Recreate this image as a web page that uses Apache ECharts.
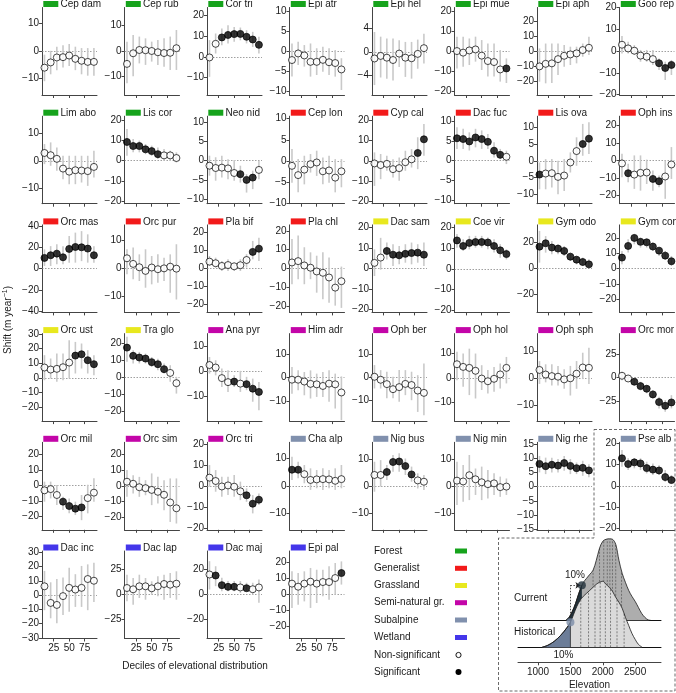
<!DOCTYPE html>
<html><head><meta charset="utf-8">
<script src="https://cdn.jsdelivr.net/npm/echarts@6/dist/echarts.min.js"></script>
<style>html,body{margin:0;padding:0;background:#fff}#c{width:676px;height:693px}</style>
</head><body><div id="c"></div>
<script>
// ---------------- DATA ----------------
const deciles = [10, 20, 30, 40, 50, 60, 70, 80, 90];
const xTickValues = [25, 50, 75];
const habitats = ['Forest', 'Generalist', 'Grassland', 'Semi-natural gr.', 'Subalpine', 'Wetland'];
const species = [
  'Cep dam','Cep rub','Cor tri','Epi atr','Epi hel','Epi mue','Epi aph','Goo rep',
  'Lim abo','Lis cor','Neo nid','Cep lon','Cyp cal','Dac fuc','Lis ova','Oph ins',
  'Orc mas','Orc pur','Pla bif','Pla chl','Dac sam','Coe vir','Gym odo','Gym con',
  'Orc ust','Tra glo','Ana pyr','Him adr','Oph ber','Oph hol','Oph sph','Orc mor',
  'Orc mil','Orc sim','Orc tri','Cha alp','Nig bus','Nig min','Nig rhe','Pse alb',
  'Dac inc','Dac lap','Dac maj','Epi pal'];
const speciesHabitat = [
  0,0,0,0,0,0,0,0,
  0,0,0,1,1,1,1,1,
  1,1,1,1,2,2,2,2,
  2,2,3,3,3,3,3,3,
  3,3,3,4,4,4,4,4,
  5,5,5,5];
const yLimits = [
  [-16,15.7],[-17.4,17.2],[-18.5,23.9],[-11,10.9],[-7.4,7.6],[-22,21.8],[-29,28.8],[-20.2,20],
  [-15.4,16],[-21.3,21.8],[-11.2,11.6],[-10.2,10.6],[-21,21.8],[-10.9,11.3],[-12.8,13.3],[-24.8,25.4],
  [-40.8,40.8],[-15.6,15.6],[-24.3,24.3],[-23.4,23.2],[-21.3,21.3],[-21,21.3],[-33.6,33.6],[-28.9,28.9],
  [-29.7,30.4],[-25.5,25.7],[-19.7,15.1],[-18.7,18.9],[-19,19.1],[-17.8,18.2],[-16,16.5],[-46.8,47],
  [-28.4,27.9],[-28,27.7],[-20.8,20.8],[-15.8,15.8],[-16.2,16.2],[-16.2,16.2],[-15.2,15.6],[-20.5,20.5],
  [-30.5,31],[-44.5,43],[-34.9,34],[-27.4,27.3]];
const t10 = [-10,0,10], t5 = [-10,-5,0,5,10], t20 = [-20,-10,0,10,20];
const yTicks = [
  t10, t10, [-10,0,10,20], t5, [-4,0,4], t20, t20, t20,
  t10, t20, t5, t5, t20, t5, t5, t20,
  [-40,-20,0,20,40], t10, t20, t20, t20, t20, [-20,0,20], t20,
  [-30,-20,-10,0,10,20,30], t20, [-20,-10,0,10], t10, t10, t10, t10, [-25,0,25],
  t20, t20, t20, t10, t10, t10, [-15,-10,-5,0,5,10,15], t20,
  [-30,-20,-10,0,10,20,30], [-25,0,25], [-20,0,20], t20];
const meanShift = [
  [-6.1,-4.2,-2.4,-2.3,-1.7,-2.9,-3.6,-4.0,-4.0],
  [-5.1,-0.9,0.4,0.3,0,-0.5,-0.8,-0.7,1.1],
  [-0.3,6.3,9.4,10.6,11,11.1,9.7,8.4,5.8],
  [-2.25,-0.6,-1.1,-2.7,-2.7,-2.2,-2.8,-3.0,-4.6],
  [-1.14,-0.7,-1.0,-1.4,-0.3,-1.0,-1.1,-0.35,0.63],
  [0,-0.8,0.3,0.8,-2.3,-5,-5.5,-9.2,-8.7],
  [-10.1,-8.4,-8.1,-5.3,-3.1,-2.2,-1.5,0.7,2.2],
  [2.9,1.2,0.15,-2.1,-2.6,-3.7,-5.6,-7.8,-6.4],
  [2.8,2.0,0.7,-2.8,-3.9,-3.4,-3.5,-3.7,-2.2],
  [9.1,7.1,7.1,5.5,4.6,3.1,2.5,2.5,1.2],
  [-1.3,-1.9,-1.8,-2.0,-3.2,-3.5,-5,-4.4,-2.4],
  [-1.2,-3.4,-2.1,-0.8,-0.4,-2.5,-2.3,-4.0,-2.5],
  [-1.3,-2.1,-1.5,-4.1,-3.6,-0.7,0.7,3.8,10.5],
  [5.7,5.5,4.9,5.9,5.5,4.8,2.55,1.5,1.0],
  [-4.1,-3.8,-3.7,-4.8,-4.4,-0.5,2.9,5,6.6],
  [-1.7,-7.3,-8.1,-7.1,-6.9,-10.6,-11.9,-9.2,-2.3],
  [10,12.5,14,10.6,18.4,20.2,19.9,18.7,12.5],
  [3.7,1.7,0.5,-0.8,0.4,-0.2,0.1,0.7,0],
  [3.9,3,1.5,2,1.3,1.9,4.8,9.3,11.1],
  [3.2,3.9,1.6,0.4,-1.6,-2.3,-4.8,-10.2,-6.8],
  [2.8,5.4,8.6,6.8,6.5,7.2,7.6,7.8,6.8],
  [13.8,11.1,12.6,13,13,12.8,11.1,9,7.2],
  [16.9,19.5,16.2,15.4,13.6,9.2,6.9,5.1,3.3],
  [7.3,15,20.3,17.7,17.4,14.6,11.9,8.6,4.9],
  [7.1,5.7,6.2,7.3,10.5,15.3,16.2,12.1,9.4],
  [17.5,12.7,11.7,11.1,9,7.8,4.9,2.7,-3.3],
  [2.6,1.6,-2.6,-4.2,-4,-4.8,-5,-6.8,-8.1],
  [-0.9,-0.9,-1.7,-2.7,-2.9,-3.6,-2.6,-2.9,-6.4],
  [0.3,-1,-2.9,-5.1,-4.2,-2.8,-3.3,-5.7,-6.7],
  [5.6,4.5,4.1,2.9,-0.3,-1.4,-0.4,1.4,4.1],
  [3,1.3,0.7,0.5,-0.5,-0.1,1.6,3.9,3.8],
  [1.8,-1.1,-4.6,-9.3,-12.1,-18.2,-26.4,-30.4,-26.8],
  [-3,-2.2,-6,-10.3,-13.1,-14.8,-14,-8,-4.5],
  [2.6,1.3,-0.9,-1.5,-2.6,-3.8,-5.7,-10.6,-14.3],
  [4,2.4,-0.2,0.3,-0.3,-2.5,-4.4,-8.4,-6.5],
  [5.9,5.9,4.3,2.2,2.4,2.5,2.4,1.9,2.5],
  [4.1,4.1,5.2,8.9,9.1,7.4,4.3,2.1,1.6],
  [2,1.7,4,2.5,1.4,0.7,1,-0.4,-0.2],
  [8,7.2,7.7,7.4,8.3,7.3,6.5,6.6,5.7],
  [13,10.3,11.1,10.6,8.4,7.7,7.3,4.2,2.8],
  [6.2,-5.5,-6.9,-0.7,5.1,3.9,5.1,11.3,10.1],
  [6,4.7,7.7,7.7,5.7,7.7,10,9.3,10.3],
  [15.5,14.7,7.1,5.8,5.8,5.3,4.7,3.9,5.3],
  [6.9,5,6.9,8.1,6.9,7.9,7.9,10.4,13.5]];
const ciLow = [
  [-11,-8.5,-7,-6,-5.5,-7,-8.5,-9,-9],
  [-12.8,-10,-4.9,-5.5,-4.2,-5.5,-6.2,-7.5,-7.5],
  [-9.7,1.6,5.6,6.5,7.3,8,6.5,4.8,1.6],
  [-6.4,-3.5,-3.9,-6.4,-6,-5.2,-6,-6.4,-9.75],
  [-5.7,-4.4,-4.6,-4.9,-2.6,-4.3,-4.6,-2.9,-2],
  [-8.7,-7.8,-7,-5.3,-9.5,-12.8,-12.8,-15.3,-16],
  [-20.2,-21.3,-21,-15.8,-10.3,-9.2,-8.1,-3.7,-2.6],
  [-1.1,-1.1,-1.8,-4.9,-4.9,-6.4,-8.7,-13.3,-11],
  [-1.2,-1.8,-3.6,-6.6,-8.4,-8.4,-7.8,-9,-6],
  [2.3,4,4,3.1,2.3,0.7,-0.2,-0.2,-1],
  [-3.9,-5.2,-4.4,-4.8,-5.2,-5.7,-8.3,-7.4,-4.8],
  [-5.2,-7.5,-5.6,-2.8,-3.6,-5.6,-5.2,-7.5,-6.3],
  [-12.3,-9,-4.9,-8.2,-9.8,-4.9,-3.3,-4.1,2.5],
  [3,3,2.6,3.4,3,3,0.85,0.4,-0.85],
  [-8.5,-8.5,-8,-10,-9,-3.5,-1.5,1.5,2],
  [-9.6,-12.5,-16.3,-17.3,-13.5,-17.3,-15.4,-22,-10.6],
  [2.5,2.5,4,4,5.6,5.6,7,5.6,5.6],
  [-2,-3.8,-4.4,-6.8,-5.6,-5,-4.4,-8.6,-11],
  [1.5,0.6,-1.3,-1.3,-1.3,-1.3,0.6,5.2,4.3],
  [-8.4,-5.7,-8.4,-5.7,-12.9,-16.4,-18.2,-19.8,-21],
  [-3.6,-0.5,4.5,1.3,2.1,2.9,2.1,2.9,1.3],
  [10.3,8.7,9.5,10.3,10.3,9.5,7.9,5.4,4.6],
  [4.6,12.3,11,11,9.7,5.9,3.3,2,0.8],
  [2.9,10.6,16.1,13.9,13.9,11.7,8.4,6.2,1.8],
  [-1.6,-0.5,-2.7,-1.6,-0.5,3,6.4,3,1.8],
  [9.2,8.2,8.2,8.2,6.2,4.3,2.3,-2.5,-9.4],
  [-0.8,-1.5,-6.1,-8.1,-6.1,-8.1,-7.4,-12,-15.4],
  [-6.9,-5.4,-7.6,-9,-8.3,-8.3,-10.4,-13.3,-18.3],
  [-4.8,-4.8,-9,-9,-10.6,-7.7,-9.9,-15,-16.4],
  [-1,-3.7,-7.1,-8.5,-5,-6.4,-5.7,-4.4,-2.3],
  [-2.2,-1.6,-2.8,-2.8,-4,-6.5,-4,-0.4,-2.2],
  [-2.9,-4.6,-8.2,-13.6,-17,-22.5,-33.2,-36.8,-33.2],
  [-10.3,-8.2,-12.5,-15.7,-17.8,-18.9,-22.2,-17.8,-10.3],
  [-7,-4.9,-7,-6,-12.3,-11.3,-15.5,-23,-24],
  [-0.3,-2.7,-5.1,-4.3,-5.1,-6.7,-7.5,-13,-9],
  [2.2,2.8,1,-1.4,-0.8,-1.4,-0.8,-1.4,-0.8],
  [-2.1,-0.2,2.2,5.3,5.3,4.1,1.6,-0.9,-1.5],
  [-7,-5.8,-5.2,-3.3,-5.2,-4.6,-3.3,-4,-3.3],
  [5,4.4,5,5,5.6,4.4,4.4,3.8,3.3],
  [9,7.5,8.3,7.5,5.9,5.2,5.2,2,1.3],
  [-10.6,-16.3,-19.8,-14,-11.7,-8.3,-8.3,-10.6,-4.8],
  [-7.3,-10.7,-4,-5.7,-0.7,-2.3,-5.7,-4,-5.7],
  [3.7,6.3,2.4,2.4,2.4,1,2.4,-0.3,-6.8],
  [-8.3,-6.3,-4.2,-8.3,-5.2,-1,-3.1,0,6.3]];
const ciHigh = [
  [-1.4,0,1.5,2,2.5,1.5,1,1,1],
  [3.7,6.3,5.7,5,3.7,4.3,5,5.7,8.3],
  [8.1,11.3,13.7,15.3,14.5,14.2,12.9,12.1,9.7],
  [1.9,2.3,1.5,1.9,0.7,1.1,0.7,0.25,-1.8],
  [3.4,2.6,2.3,2.3,2,1.7,1.7,2.1,3.1],
  [7.2,7.2,6.3,7.2,5.5,3.8,3.8,0.5,-3.7],
  [1.8,5,5,5,4,2.9,2.9,5,9.5],
  [6.9,4.3,2.7,0.5,0.5,0.5,-3.4,-4.9,-4.1],
  [6,6.6,4.8,1.8,1.8,1.8,1.8,1.8,3.6],
  [15.5,10.6,9.8,8.1,7.3,6.4,5.6,4.8,4],
  [1.3,0.9,1.3,0.4,0.2,-1.3,-3.5,-2.6,0],
  [2.8,0.4,1.2,1.6,2.4,0.8,1.2,0.4,0.4],
  [4.1,3.3,2.5,0.8,1.6,4.9,5.7,11.5,18],
  [8.5,8.1,7.2,8.1,7.7,6.8,4.7,3,2.55],
  [-0.5,0.5,0.5,0,0.5,2.5,7,11,11.5],
  [3.8,-1.9,2.9,2.9,0.5,-5.8,-8.6,0,7.7],
  [18,21,22.7,21,30.5,33.6,35,32,21],
  [6.9,7.5,5.1,6.9,4.5,5.1,3.9,5.1,8.7],
  [7,6.1,4.3,5.2,3.3,5.2,8,15.4,17.2],
  [15.7,17.5,11.3,8.6,6.8,8.6,5.9,0,1],
  [9.4,15,12.7,11.9,11,11.9,12.7,11.9,12.7],
  [16.9,14.4,16,16,16,15.2,14.4,12,9.5],
  [29,25,21.3,18.7,17.4,12.3,9.7,8.5,7.2],
  [11.7,19.4,22.7,20.5,19.4,17.2,14.1,11.7,8.4],
  [15.6,13.3,16.7,16.7,25.9,24.7,23.6,19,15.6],
  [23.8,16,15,14,12,11,8.2,7.2,0.4],
  [5.8,4.5,1.2,0.5,-1.5,0.3,-2.1,-2.8,-4.1],
  [4.6,3.1,2.4,3.1,1.7,2.4,3.1,1.7,0.5],
  [5.4,3.2,2.5,0.3,3.2,3.2,2.5,1,6.1],
  [10.7,10,12,10,5.2,3.2,4.5,5.9,8.6],
  [6.3,5.1,5.1,4.5,3.3,4.5,6.3,9.4,11.2],
  [6,2.5,-1.1,-4.6,-8.2,-13.6,-20.7,-24.3,-19],
  [2.6,2.6,0.4,-7.1,-8.2,-10.3,-6,0.6,4.7],
  [10,6.8,5.7,3.6,7.9,5.7,3.6,4.7,4.7],
  [10,7.6,4.4,4.4,5.2,2.1,-1.1,-4.3,-3.5],
  [10.6,8.8,7.6,6.4,5.8,6.4,5.8,6.4,7.6],
  [9,9.6,7.8,11.5,12.1,10.2,7.2,4.7,4.1],
  [9,7.8,11.5,6.5,7.2,5.9,4.7,3.5,2.8],
  [10.8,10.2,10.2,9.7,10.8,9.7,8.5,9.1,7.9],
  [16.9,13,13,13,11.4,10.6,9.8,7.5,5.2],
  [17,9,11.3,12.4,19.3,14.7,20.5,21.6,22.8],
  [19.3,16,19.3,16,12.7,17.7,19.3,21,22.7],
  [26,22,12.9,10.3,10.3,10.3,9,9,11.6],
  [14.6,13.5,14.6,16.7,15.6,15.6,17.7,19.8,20.8]];
const significant = [
  [0,0,0,0,0,0,0,0,0],[0,0,0,0,0,0,0,0,0],[0,0,1,1,1,1,1,1,1],[0,0,0,0,0,0,0,0,0],
  [0,0,0,0,0,0,0,0,0],[0,0,0,0,0,0,0,0,1],[0,0,0,0,0,0,0,0,0],[0,0,0,0,0,0,1,1,1],
  [0,0,0,0,0,0,0,0,0],[1,1,1,1,1,1,0,0,0],[0,0,0,0,0,1,1,1,0],[0,0,0,0,0,0,0,0,0],
  [0,0,0,0,0,0,0,1,1],[1,1,1,1,1,1,1,1,0],[1,0,0,0,0,0,0,1,1],[0,1,0,0,0,1,1,0,0],
  [1,1,1,1,1,1,1,1,1],[0,0,0,0,0,0,0,0,0],[0,0,0,0,0,0,0,1,1],[0,0,0,0,0,0,0,0,0],
  [0,0,1,1,1,1,1,1,1],[1,1,1,1,1,1,1,1,1],[1,1,1,1,1,1,1,1,1],[1,1,1,1,1,1,1,1,1],
  [0,0,0,0,0,1,1,1,1],[1,1,1,1,1,1,1,0,0],[0,0,0,0,1,0,1,1,1],[0,0,0,0,0,0,0,0,0],
  [0,0,0,0,0,0,0,0,0],[0,0,0,0,0,0,0,0,0],[0,0,0,0,0,0,0,0,0],[0,0,1,1,1,1,1,1,1],
  [0,0,0,1,1,1,1,0,0],[0,0,0,0,0,0,0,0,0],[0,0,0,0,0,0,1,1,1],[1,1,0,0,0,0,0,0,0],
  [0,0,1,1,1,1,1,0,0],[0,0,0,0,0,0,0,0,0],[1,1,1,1,1,1,1,1,1],[1,1,1,1,1,1,1,1,1],
  [0,0,0,0,0,0,0,0,0],[0,0,0,0,0,0,0,0,0],[0,1,1,1,1,0,1,0,0],[0,0,0,0,0,0,0,0,1]];

// Inset ridgeline (elevation, density height)
const elevationTicks = [1000, 1500, 2000, 2500];
const currentCurve = [[1430,0],[1480,3],[1530,9],[1580,17],[1630,27],[1677,35],[1700,38],[1750,42],[1800,46],[1850,50],[1900,60],[1950,72],[2000,79],[2050,81],[2100,81.5],[2150,81],[2200,76],[2250,60],[2300,47],[2350,38],[2400,30],[2450,24],[2500,19],[2550,13],[2600,7],[2650,3],[2700,0.5],[2740,0]];
const historicalCurve = [[1060,0],[1150,2],[1250,6],[1350,12],[1450,20],[1500,25],[1550,33],[1600,41],[1650,47],[1700,51],[1750,54],[1800,57],[1850,60],[1900,63],[1950,65],[2000,66],[2050,63],[2100,60],[2150,56],[2200,50],[2250,45],[2300,39],[2350,30],[2400,22],[2450,14],[2500,8],[2550,3],[2610,0]];
const currentDeciles = [[1850,50],[1950,72],[2015,80],[2070,81],[2110,81],[2150,81],[2200,76],[2290,49]];
const historicalDeciles = [[1660,48],[1780,56],[1880,62],[1960,65],[2040,64],[2120,59],[2220,48],[2330,34]];
const current10 = [1677, 35];
const historical10 = [1500, 25];

// ---------------- STYLE / LAYOUT ----------------
const habitatColors = ['#16a31c', '#f21a1a', '#e8e81e', '#c305a8', '#8090ad', '#4436ea'];
const FONT = '"Liberation Sans", Arial, Helvetica, sans-serif';
const AX = '#444', TXT = '#1a1a1a';
const minus = v => String(v).replace('-', '\u2212');

const grids = [], xAxes = [], yAxes = [], series = [], graphics = [];
species.forEach((name, i) => {
  const r = Math.floor(i / 8), c = i % 8;
  const left = 42 + 82.5 * c;
  const titleY = 4 + 108.7 * r;
  const top = titleY + 3.5;
  grids.push({ left: left, top: top, width: 55, height: 87.5 });
  xAxes.push({
    gridIndex: i, type: 'value', min: 6, max: 95,
    axisLine: { show: true, onZero: false, lineStyle: { color: AX, width: 1 } },
    axisTick: { show: true, length: 3, customValues: xTickValues, lineStyle: { color: AX } },
    axisLabel: { show: r === 5, customValues: xTickValues, fontSize: 10, color: TXT, margin: 5, fontFamily: FONT },
    splitLine: { show: false }
  });
  yAxes.push({
    gridIndex: i, type: 'value', min: yLimits[i][0], max: yLimits[i][1],
    axisLine: { show: true, onZero: false, lineStyle: { color: AX, width: 1 } },
    axisTick: { show: true, length: 3, customValues: yTicks[i], lineStyle: { color: AX } },
    axisLabel: { customValues: yTicks[i], fontSize: 10, color: TXT, margin: 3, fontFamily: FONT, formatter: minus },
    splitLine: { show: false }
  });
  series.push({
    type: 'custom', xAxisIndex: i, yAxisIndex: i, z: 2,
    data: deciles.map((d, k) => [d, ciLow[i][k], ciHigh[i][k]]),
    encode: { x: 0, y: [1, 2] },
    renderItem: (params, api) => {
      const a = api.coord([api.value(0), api.value(1)]);
      const b = api.coord([api.value(0), api.value(2)]);
      return { type: 'line', shape: { x1: a[0], y1: a[1], x2: b[0], y2: b[1] },
        style: { stroke: '#c9c9c9', lineWidth: 1.6 } };
    },
    markLine: { silent: true, z: 1, symbol: ['none', 'none'], label: { show: false },
      lineStyle: { type: [1.5, 1.5], color: '#888', width: 0.8 }, data: [{ yAxis: 0 }] }
  });
  series.push({
    type: 'scatter', xAxisIndex: i, yAxisIndex: i, z: 3, symbolSize: 7,
    data: deciles.map((d, k) => ({ value: [d, meanShift[i][k]],
      itemStyle: { color: significant[i][k] ? '#000' : '#fff' } })),
    itemStyle: { borderColor: '#000', borderWidth: 0.9 }
  });
  graphics.push({ type: 'rect', shape: { x: left + 1.3, y: titleY - 3, width: 15, height: 6 },
    style: { fill: habitatColors[speciesHabitat[i]] } });
  graphics.push({ type: 'text', x: left + 18.5, y: titleY + 0.5,
    style: { text: name, fill: TXT, fontSize: 10, fontFamily: FONT, verticalAlign: 'middle', align: 'left' } });
});

// ---- inset grids ----
const insetLeft = 518, insetWidth = 143;
const curBase = 620.3, histBase = 647.3, curMax = 83, curMin = -30, histMax = 70;
const gi = grids.length;
grids.push({ left: insetLeft, width: insetWidth, top: curBase - curMax, height: curMax - curMin });
grids.push({ left: insetLeft, width: insetWidth, top: histBase - histMax, height: histMax });
const xiCur = xAxes.length;
xAxes.push({ gridIndex: gi, type: 'value', min: 690, max: 2900,
  axisLine: { show: true, onZero: true, lineStyle: { color: '#111', width: 1 } },
  axisTick: { show: false }, axisLabel: { show: false }, splitLine: { show: false } });
xAxes.push({ gridIndex: gi + 1, type: 'value', min: 690, max: 2900, position: 'bottom',
  axisLine: { show: true, onZero: false, lineStyle: { color: '#111', width: 1 } },
  axisTick: { show: false }, axisLabel: { show: false }, splitLine: { show: false } });
xAxes.push({ gridIndex: gi + 1, type: 'value', min: 690, max: 2900, position: 'bottom', offset: 15,
  name: 'Elevation', nameLocation: 'middle', nameGap: 18,
  nameTextStyle: { fontSize: 10, color: TXT, fontFamily: FONT },
  axisLine: { show: true, onZero: false, lineStyle: { color: AX, width: 1 } },
  axisTick: { show: true, length: 3, customValues: elevationTicks, lineStyle: { color: AX } },
  axisLabel: { customValues: elevationTicks, fontSize: 10, color: TXT, margin: 5, fontFamily: FONT,
    formatter: v => String(v) },
  splitLine: { show: false } });
const yiCur = yAxes.length;
yAxes.push({ gridIndex: gi, type: 'value', min: curMin, max: curMax, show: false });
yAxes.push({ gridIndex: gi + 1, type: 'value', min: 0, max: histMax, show: false });

const outline = { color: '#1a1a1a', width: 0.8 };
const decileRender = (stroke, dash) => (params, api) => {
  const a = api.coord([api.value(0), 0]);
  const b = api.coord([api.value(0), api.value(1)]);
  return { type: 'line', shape: { x1: a[0], y1: a[1], x2: b[0], y2: b[1] },
    style: { stroke: stroke, lineWidth: 0.7, lineDash: dash } };
};
// current
series.push({ type: 'line', xAxisIndex: xiCur, yAxisIndex: yiCur, z: 2, smooth: 0.35, symbol: 'none',
  data: currentCurve, lineStyle: outline, areaStyle: { color: '#adadad', opacity: 1 } });
series.push({ type: 'custom', xAxisIndex: xiCur, yAxisIndex: yiCur, z: 2, data: currentDeciles,
  renderItem: decileRender('#555', [2, 1.5]) });
series.push({ type: 'line', xAxisIndex: xiCur, yAxisIndex: yiCur, z: 2, smooth: 0.35, symbol: 'none',
  data: currentCurve.filter(p => p[0] <= current10[0]), lineStyle: outline,
  areaStyle: { color: '#22313b', opacity: 1 },
  markLine: { silent: true, z: 6, label: { show: false }, symbol: ['none', 'none'],
    lineStyle: { type: [1.5, 1.5], color: '#222', width: 0.8 },
    data: [
      [{ coord: [historical10[0], historical10[1] - (histBase - curBase)] }, { coord: [historical10[0], current10[1]] }],
      [{ coord: [historical10[0], current10[1]] }, { coord: [current10[0] - 22, current10[1]], symbol: 'arrow', symbolSize: 5 }]
    ] } });
// historical
series.push({ type: 'line', xAxisIndex: xiCur + 1, yAxisIndex: yiCur + 1, z: 3, smooth: 0.35, symbol: 'none',
  data: historicalCurve, lineStyle: outline, areaStyle: { color: '#dadada', opacity: 1 } });
series.push({ type: 'line', xAxisIndex: xiCur + 1, yAxisIndex: yiCur + 1, z: 3, smooth: 0.35, symbol: 'none',
  data: historicalCurve.filter(p => p[0] <= historical10[0]), lineStyle: outline,
  areaStyle: { color: '#6c7d98', opacity: 1 } });
series.push({ type: 'custom', xAxisIndex: xiCur + 1, yAxisIndex: yiCur + 1, z: 3, data: historicalDeciles,
  renderItem: decileRender('#555', [2, 1.5]) });
series.push({ type: 'custom', xAxisIndex: xiCur + 1, yAxisIndex: yiCur + 1, z: 3, data: [historical10],
  renderItem: decileRender('#1a1a1a', null) });
series.push({ type: 'scatter', xAxisIndex: xiCur, yAxisIndex: yiCur, z: 6, symbolSize: 8,
  data: [current10], itemStyle: { color: '#22313b' } });
series.push({ type: 'scatter', xAxisIndex: xiCur + 1, yAxisIndex: yiCur + 1, z: 6, symbolSize: 8,
  data: [historical10], itemStyle: { color: '#7b8ca8' } });

// ---- texts, legend, frame ----
const txt = (text, x, y, extra) => Object.assign({ type: 'text', x: x, y: y,
  style: Object.assign({ text: text, fill: TXT, fontSize: 10, fontFamily: FONT, verticalAlign: 'middle', align: 'left' }, extra || {}) });
graphics.push(txt('Current', 514, 598));
graphics.push(txt('Historical', 514, 632));
graphics.push(txt('10%', 575, 575, { align: 'center' }));
graphics.push(txt('10%', 563.5, 655.5, { align: 'center' }));
graphics.push(txt('Deciles of elevational distribution', 195, 666, { align: 'center' }));
graphics.push({ type: 'text', x: 8, y: 320, rotation: Math.PI / 2,
  style: { text: 'Shift (m year{sup|\u22121})', fill: TXT, fontSize: 10, fontFamily: FONT,
    align: 'center', verticalAlign: 'middle',
    rich: { sup: { fontSize: 7, fontFamily: FONT, fill: TXT, padding: [0, 0, 6, 0] } } } });
const legendY = [551, 568.3, 585.5, 602.7, 620, 637.5, 655, 672];
habitats.forEach((h, k) => {
  graphics.push(txt(h, 374, legendY[k]));
  graphics.push({ type: 'rect', shape: { x: 455, y: legendY[k] - 2.5, width: 12, height: 5 },
    style: { fill: habitatColors[k] } });
});
graphics.push(txt('Non-significant', 374, legendY[6]));
graphics.push(txt('Significant', 374, legendY[7]));
graphics.push({ type: 'circle', shape: { cx: 458.5, cy: legendY[6], r: 2.6 }, style: { fill: '#fff', stroke: '#000', lineWidth: 0.9 } });
graphics.push({ type: 'circle', shape: { cx: 458.5, cy: legendY[7], r: 3 }, style: { fill: '#000' } });
graphics.push({ type: 'polyline', shape: { points: [[594, 429.5], [675, 429.5], [675, 691], [498.5, 691], [498.5, 538], [594, 538], [594, 429.5]] },
  style: { stroke: '#444', lineWidth: 0.8, lineDash: [3, 2], fill: null } });

const chart = echarts.init(document.getElementById('c'), null, { renderer: 'canvas' });
chart.setOption({
  animation: false, backgroundColor: '#fff',
  textStyle: { fontFamily: FONT },
  grid: grids, xAxis: xAxes, yAxis: yAxes, series: series, graphic: graphics
});
</script></body></html>
